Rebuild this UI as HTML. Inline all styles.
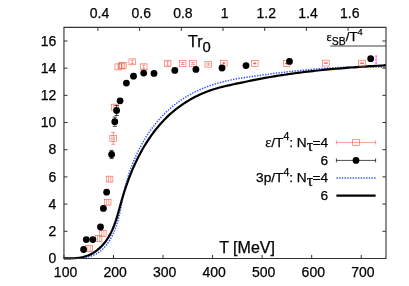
<!DOCTYPE html><html><head><meta charset="utf-8"><style>html,body{margin:0;padding:0;background:#fff;}svg{display:block;will-change:transform;}text{font-family:"Liberation Sans",sans-serif;fill:#000;stroke:#000;stroke-width:0.25px;}</style></head><body>
<svg width="409" height="286" viewBox="0 0 409 286">
<rect width="409" height="286" fill="#fff"/>
<line x1="330.3" y1="46.0" x2="386" y2="46.0" stroke="#808080" stroke-width="1.3"/>
<line x1="376.1" y1="55.3" x2="376.1" y2="65.0" stroke="#ff40ff" stroke-width="1.3" stroke-dasharray="2.3,0.9"/>
<path d="M63.95,258.40 L66.80,258.35 L69.55,258.38 L72.32,258.38 L75.09,258.34 L77.86,258.23 L80.60,258.04 L83.31,257.74 L85.97,257.32 L88.57,256.77 L91.10,256.06 L93.54,255.17 L95.88,254.09 L98.11,252.80 L100.22,251.29 L102.20,249.60 L104.07,247.74 L105.82,245.74 L107.45,243.63 L108.96,241.44 L110.36,239.18 L111.64,236.88 L112.82,234.55 L113.90,232.18 L114.89,229.78 L115.79,227.34 L116.63,224.88 L117.39,222.39 L118.10,219.88 L118.75,217.34 L119.36,214.79 L119.94,212.21 L120.49,209.63 L121.02,207.03 L121.53,204.42 L122.04,201.80 L122.55,199.18 L123.08,196.55 L123.62,193.92 L124.19,191.29 L124.79,188.67 L125.43,186.05 L126.11,183.44 L126.83,180.83 L127.59,178.24 L128.38,175.65 L129.21,173.08 L130.09,170.51 L131.00,167.96 L131.94,165.43 L132.93,162.91 L133.96,160.41 L135.02,157.92 L136.12,155.46 L137.26,153.01 L138.44,150.59 L139.66,148.19 L140.92,145.81 L142.21,143.46 L143.55,141.14 L144.92,138.84 L146.33,136.57 L147.78,134.33 L149.27,132.12 L150.80,129.95 L152.36,127.80 L153.97,125.69 L155.61,123.62 L157.29,121.58 L159.01,119.58 L160.77,117.62 L162.57,115.70 L164.40,113.83 L166.28,111.99 L168.19,110.20 L170.15,108.45 L172.14,106.75 L174.17,105.09 L176.24,103.49 L178.34,101.93 L180.49,100.42 L182.67,98.97 L184.89,97.56 L187.14,96.19 L189.42,94.88 L191.73,93.62 L194.07,92.40 L196.44,91.24 L198.84,90.12 L201.26,89.05 L203.71,88.03 L206.18,87.05 L208.67,86.13 L211.19,85.25 L213.72,84.42 L216.27,83.64 L218.84,82.90 L221.42,82.20 L224.02,81.55 L226.63,80.93 L229.25,80.35 L231.88,79.81 L234.52,79.29 L237.17,78.80 L239.82,78.33 L242.48,77.89 L245.15,77.46 L247.82,77.05 L250.48,76.66 L253.15,76.28 L255.82,75.90 L258.48,75.54 L261.15,75.18 L263.80,74.82 L266.46,74.47 L269.11,74.12 L271.76,73.77 L274.40,73.44 L277.05,73.10 L279.69,72.78 L282.33,72.46 L284.97,72.14 L287.61,71.84 L290.24,71.53 L292.87,71.24 L295.51,70.95 L298.14,70.68 L300.77,70.40 L303.41,70.14 L306.04,69.89 L308.67,69.64 L311.30,69.40 L313.93,69.17 L316.57,68.95 L319.20,68.74 L321.84,68.54 L324.48,68.35 L327.12,68.17 L329.76,68.00 L332.40,67.84 L335.04,67.69 L337.69,67.56 L340.34,67.43 L343.00,67.32 L345.65,67.21 L348.31,67.12 L350.97,67.04 L353.64,66.98 L356.31,66.93 L358.99,66.89 L361.66,66.86 L364.35,66.85 L367.04,66.85 L369.73,66.86 L372.43,66.89 L375.13,66.93 L377.84,66.99 L380.56,67.06 L383.28,67.15 L386.00,67.10" fill="none" stroke="#3355ff" stroke-width="1.5" stroke-dasharray="1.4,1.3"/>
<path d="M63.95,258.40 L66.63,258.26 L69.47,258.29 L72.28,258.25 L75.04,258.10 L77.74,257.85 L80.40,257.48 L82.99,256.96 L85.51,256.29 L87.97,255.45 L90.34,254.42 L92.63,253.21 L94.84,251.83 L96.95,250.31 L98.96,248.66 L100.86,246.89 L102.66,245.02 L104.33,243.07 L105.89,241.06 L107.34,238.98 L108.68,236.84 L109.93,234.65 L111.09,232.40 L112.17,230.11 L113.17,227.78 L114.12,225.40 L115.00,222.99 L115.83,220.55 L116.63,218.07 L117.39,215.58 L118.12,213.06 L118.84,210.53 L119.55,207.99 L120.25,205.43 L120.96,202.87 L121.69,200.31 L122.43,197.76 L123.20,195.20 L123.99,192.66 L124.81,190.11 L125.65,187.58 L126.51,185.05 L127.41,182.54 L128.32,180.03 L129.26,177.54 L130.23,175.05 L131.23,172.58 L132.25,170.13 L133.30,167.69 L134.38,165.26 L135.49,162.85 L136.63,160.46 L137.79,158.09 L138.99,155.74 L140.21,153.41 L141.47,151.10 L142.76,148.82 L144.08,146.56 L145.43,144.32 L146.81,142.11 L148.23,139.93 L149.68,137.77 L151.16,135.64 L152.68,133.54 L154.23,131.48 L155.81,129.44 L157.43,127.44 L159.09,125.47 L160.78,123.53 L162.51,121.64 L164.28,119.77 L166.08,117.95 L167.92,116.16 L169.80,114.41 L171.72,112.71 L173.67,111.04 L175.67,109.42 L177.71,107.84 L179.78,106.30 L181.89,104.81 L184.04,103.37 L186.22,101.97 L188.44,100.62 L190.68,99.31 L192.96,98.05 L195.27,96.84 L197.61,95.68 L199.97,94.57 L202.36,93.51 L204.77,92.50 L207.20,91.54 L209.66,90.63 L212.14,89.78 L214.63,88.98 L217.15,88.23 L219.67,87.53 L222.22,86.87 L224.77,86.24 L227.34,85.64 L229.92,85.06 L232.51,84.50 L235.11,83.95 L237.71,83.40 L240.32,82.85 L242.94,82.31 L245.55,81.76 L248.17,81.22 L250.79,80.69 L253.40,80.16 L256.02,79.65 L258.63,79.14 L261.23,78.65 L263.83,78.17 L266.43,77.70 L269.02,77.24 L271.61,76.79 L274.19,76.36 L276.77,75.94 L279.35,75.52 L281.93,75.12 L284.50,74.73 L287.07,74.35 L289.64,73.98 L292.21,73.62 L294.77,73.26 L297.34,72.92 L299.90,72.59 L302.47,72.26 L305.03,71.95 L307.59,71.64 L310.16,71.34 L312.73,71.05 L315.29,70.77 L317.86,70.49 L320.43,70.22 L323.00,69.96 L325.58,69.71 L328.16,69.46 L330.74,69.22 L333.32,68.98 L335.91,68.75 L338.50,68.53 L341.10,68.31 L343.70,68.10 L346.30,67.89 L348.91,67.69 L351.53,67.49 L354.15,67.30 L356.78,67.11 L359.41,66.93 L362.05,66.74 L364.70,66.57 L367.35,66.39 L370.01,66.22 L372.68,66.05 L375.36,65.89 L378.04,65.73 L380.74,65.57 L383.44,65.41 L386.00,65.20" fill="none" stroke="#000" stroke-width="2.2" stroke-linejoin="round"/>
<g fill="none" stroke="#f35a45" stroke-width="0.6"><rect x="85.70" y="245.45" width="6.60" height="5.90"/><path d="M87.85,245.45 v5.90 M90.15,245.45 v5.90"/><rect x="95.30" y="235.45" width="6.60" height="5.90"/><path d="M97.45,235.45 v5.90 M99.75,235.45 v5.90"/><rect x="99.50" y="230.45" width="6.60" height="5.90"/><path d="M101.65,230.45 v5.90 M103.95,230.45 v5.90"/><rect x="104.40" y="199.25" width="6.60" height="5.90"/><path d="M106.55,199.25 v5.90 M108.85,199.25 v5.90"/><rect x="106.30" y="176.15" width="6.60" height="5.90"/><path d="M108.45,176.15 v5.90 M110.75,176.15 v5.90"/><rect x="109.90" y="135.45" width="6.60" height="5.90"/><path d="M113.20,132.50 V144.30 M111.25,132.50 h3.9 M111.25,144.30 h3.9 M111.80,136.45 v3.9 M114.60,136.45 v3.9" /><rect x="111.60" y="104.15" width="6.60" height="5.90"/><path d="M113.75,104.15 v5.90 M116.05,104.15 v5.90"/><rect x="114.90" y="63.95" width="6.60" height="5.90"/><path d="M118.20,63.95 v5.90"/><rect x="118.20" y="63.05" width="6.60" height="5.90"/><path d="M121.50,63.05 v5.90"/><rect x="119.60" y="62.55" width="6.60" height="5.90"/><path d="M122.90,62.55 v5.90"/><rect x="129.00" y="58.85" width="6.60" height="5.90"/><path d="M132.30,60.00 V63.60 M130.50,60.00 h3.6 M130.50,63.60 h3.6"/><rect x="140.40" y="63.85" width="6.60" height="5.90"/><path d="M143.70,65.00 V68.60 M141.90,65.00 h3.6 M141.90,68.60 h3.6"/><rect x="164.30" y="60.55" width="6.60" height="5.90"/><path d="M167.60,61.70 V65.30 M165.80,61.70 h3.6 M165.80,65.30 h3.6"/><rect x="179.40" y="60.55" width="6.60" height="5.90"/><path d="M182.70,62.50 V64.50 M180.80,62.50 h3.8 M180.80,64.50 h3.8"/><rect x="189.60" y="60.45" width="6.60" height="5.90"/><path d="M192.90,62.40 V64.40 M191.00,62.40 h3.8 M191.00,64.40 h3.8"/><rect x="205.00" y="61.25" width="6.60" height="5.90"/><path d="M208.30,63.20 V65.20 M206.40,63.20 h3.8 M206.40,65.20 h3.8"/><rect x="220.50" y="60.25" width="6.60" height="5.90"/><path d="M222.30,63.20 h3 M223.80,62.00 v2.4" stroke-width="1"/><rect x="251.50" y="60.55" width="6.60" height="5.90"/><path d="M253.30,63.50 h3 M254.80,62.30 v2.4" stroke-width="1"/><rect x="283.30" y="60.55" width="6.60" height="5.90"/><path d="M285.10,63.50 h3 M286.60,62.30 v2.4" stroke-width="1"/><rect x="322.60" y="60.15" width="6.60" height="5.90"/><path d="M324.00,63.10 h3.8" stroke-width="1.3"/><rect x="358.70" y="60.25" width="6.60" height="5.90"/><path d="M360.10,63.20 h3.8" stroke-width="1.3"/></g>
<g fill="#000"><circle cx="83.60" cy="249.50" r="3.4"/><circle cx="86.30" cy="239.60" r="3.4"/><circle cx="92.85" cy="239.60" r="3.4"/><circle cx="100.50" cy="227.00" r="3.4"/><circle cx="103.40" cy="208.40" r="3.4"/><circle cx="106.65" cy="192.20" r="3.4"/><path d="M111.60,150.45 V158.55 M109.50,150.45 H113.70 M109.50,158.55 H113.70" stroke="#000" stroke-width="0.7" fill="none"/><circle cx="111.60" cy="154.50" r="3.4"/><path d="M114.80,117.10 V126.30 M112.70,117.10 H116.90 M112.70,126.30 H116.90" stroke="#000" stroke-width="0.7" fill="none"/><circle cx="114.80" cy="121.70" r="3.4"/><path d="M116.60,105.50 V115.50 M114.50,105.50 H118.70 M114.50,115.50 H118.70" stroke="#000" stroke-width="0.7" fill="none"/><circle cx="116.60" cy="110.50" r="3.4"/><circle cx="120.10" cy="100.80" r="3.4"/><circle cx="126.40" cy="83.10" r="3.4"/><circle cx="133.50" cy="76.20" r="3.4"/><circle cx="143.70" cy="73.10" r="3.4"/><circle cx="154.00" cy="73.40" r="3.4"/><circle cx="174.80" cy="70.40" r="3.4"/><circle cx="195.90" cy="69.45" r="3.4"/><circle cx="222.00" cy="68.00" r="3.4"/><circle cx="246.00" cy="65.60" r="3.4"/><circle cx="289.50" cy="61.40" r="3.4"/><circle cx="370.70" cy="58.70" r="3.4"/></g>
<path d="M63.95,27.40 H386.00 V258.45 H63.95 Z" fill="none" stroke="#333" stroke-width="1.1"/>
<path d="M63.95,258.45 h3.6 M386.00,258.45 h-3.6 M63.95,231.27 h3.6 M386.00,231.27 h-3.6 M63.95,204.09 h3.6 M386.00,204.09 h-3.6 M63.95,176.90 h3.6 M386.00,176.90 h-3.6 M63.95,149.72 h3.6 M386.00,149.72 h-3.6 M63.95,122.54 h3.6 M386.00,122.54 h-3.6 M63.95,95.36 h3.6 M386.00,95.36 h-3.6 M63.95,68.17 h3.6 M386.00,68.17 h-3.6 M63.95,40.99 h3.6 M386.00,40.99 h-3.6 M63.95,258.45 v-3.5 M113.50,258.45 v-3.5 M163.04,258.45 v-3.5 M212.59,258.45 v-3.5 M262.13,258.45 v-3.5 M311.68,258.45 v-3.5 M361.23,258.45 v-3.5 M97.90,27.40 v3.5 M139.60,27.40 v3.5 M181.30,27.40 v3.5 M223.00,27.40 v3.5 M264.70,27.40 v3.5 M306.40,27.40 v3.5 M348.10,27.40 v3.5" stroke="#333" stroke-width="1" fill="none"/>
<text x="56.4" y="263.10" font-size="14" text-anchor="end">0</text>
<text x="56.4" y="235.92" font-size="14" text-anchor="end">2</text>
<text x="56.4" y="208.74" font-size="14" text-anchor="end">4</text>
<text x="56.4" y="181.55" font-size="14" text-anchor="end">6</text>
<text x="56.4" y="154.37" font-size="14" text-anchor="end">8</text>
<text x="56.4" y="127.19" font-size="14" text-anchor="end">10</text>
<text x="56.4" y="100.01" font-size="14" text-anchor="end">12</text>
<text x="56.4" y="72.82" font-size="14" text-anchor="end">14</text>
<text x="56.4" y="45.64" font-size="14" text-anchor="end">16</text>
<text x="65.55" y="277.2" font-size="14" text-anchor="middle">100</text>
<text x="115.10" y="277.2" font-size="14" text-anchor="middle">200</text>
<text x="164.64" y="277.2" font-size="14" text-anchor="middle">300</text>
<text x="214.19" y="277.2" font-size="14" text-anchor="middle">400</text>
<text x="263.73" y="277.2" font-size="14" text-anchor="middle">500</text>
<text x="313.28" y="277.2" font-size="14" text-anchor="middle">600</text>
<text x="362.83" y="277.2" font-size="14" text-anchor="middle">700</text>
<text x="99.50" y="18.2" font-size="14" text-anchor="middle">0.4</text>
<text x="141.20" y="18.2" font-size="14" text-anchor="middle">0.6</text>
<text x="182.90" y="18.2" font-size="14" text-anchor="middle">0.8</text>
<text x="224.60" y="18.2" font-size="14" text-anchor="middle">1</text>
<text x="266.30" y="18.2" font-size="14" text-anchor="middle">1.2</text>
<text x="308.00" y="18.2" font-size="14" text-anchor="middle">1.4</text>
<text x="349.70" y="18.2" font-size="14" text-anchor="middle">1.6</text>
<text x="188.0" y="47.3" font-size="16">Tr<tspan dy="4.6" font-size="14.8">0</tspan></text>
<text x="219.2" y="252.7" font-size="16">T [MeV]</text>
<text x="326.5" y="40.5" font-size="12"><tspan font-family="Liberation Serif" font-size="12">ε</tspan><tspan dy="4.1" dx="0.3" font-size="10.4">SB</tspan><tspan dy="-4.0" font-size="13.2">/T</tspan><tspan dy="-6.0" font-size="9.3">4</tspan></text>
<text x="328" y="146.70" font-size="13.7" text-anchor="end"><tspan font-family="Liberation Serif" font-size="14">ε</tspan>/T<tspan dy="-6.3" font-size="10.5">4</tspan><tspan dy="6.3">: N</tspan><tspan dy="4" font-size="16" font-family="Liberation Serif">τ</tspan><tspan dy="-4" dx="-0.8">=4</tspan></text>
<text x="328" y="164.50" font-size="13.7" text-anchor="end">6</text>
<text x="328" y="182.00" font-size="13.7" text-anchor="end">3p/T<tspan dy="-6.3" font-size="10.5">4</tspan><tspan dy="6.3">: N</tspan><tspan dy="4" font-size="16" font-family="Liberation Serif">τ</tspan><tspan dy="-4" dx="-0.8">=4</tspan></text>
<text x="328" y="199.60" font-size="13.7" text-anchor="end">6</text>
<g fill="none" stroke="#f35a45" stroke-width="0.6"><path d="M336.4,142.4 H375.6 M336.4,140.4 v4 M375.6,140.4 v4"/><rect x="352.7" y="139.25" width="6.6" height="6.3"/></g>
<g fill="none" stroke="#000" stroke-width="0.7"><path d="M336.4,160.4 H375.6 M336.4,158.4 v4 M375.6,158.4 v4"/></g><circle cx="356" cy="160.4" r="3.4"/>
<path d="M336.4,178 H375.6" stroke="#3355ff" stroke-width="1.5" stroke-dasharray="1.4,1.3" fill="none"/>
<path d="M336.4,195.6 H375.6" stroke="#000" stroke-width="2.2" fill="none"/>
</svg></body></html>
